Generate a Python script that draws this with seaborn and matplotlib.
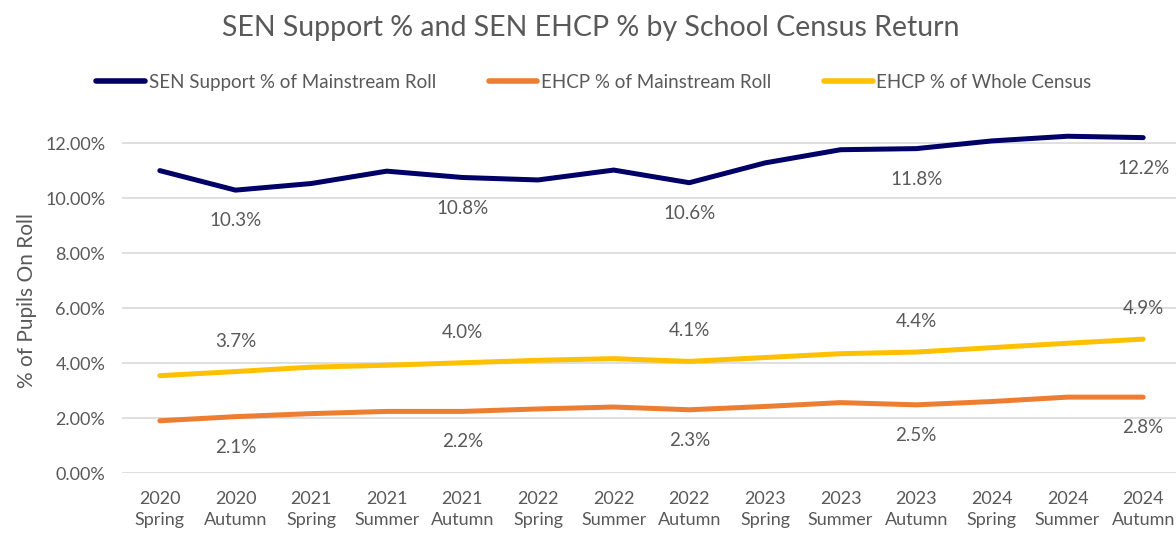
import matplotlib
matplotlib.use("Agg")
import matplotlib.pyplot as plt
import seaborn as sns
import pandas as pd
import numpy as np

# census returns (x categories)
periods = ["2020\nSpring", "2020\nAutumn", "2021\nSpring", "2021\nSummer", "2021\nAutumn",
           "2022\nSpring", "2022\nSummer", "2022\nAutumn", "2023\nSpring", "2023\nSummer",
           "2023\nAutumn", "2024\nSpring", "2024\nSummer", "2024\nAutumn"]

# values (as fractions)
sen_support = [0.1100, 0.1029, 0.1053, 0.1098, 0.1075, 0.1066, 0.1102, 0.1056, 0.1128,
               0.1176, 0.1180, 0.1208, 0.1225, 0.1220]
ehcp_mainstream = [0.0190, 0.0205, 0.0216, 0.0224, 0.0224, 0.0233, 0.0240, 0.0230, 0.0242,
                   0.0256, 0.0248, 0.0260, 0.0276, 0.0276]
ehcp_whole = [0.0354, 0.0369, 0.0385, 0.0392, 0.0401, 0.0410, 0.0416, 0.0406, 0.0420,
              0.0434, 0.0440, 0.0456, 0.0472, 0.0487]

names = ["SEN Support % of Mainstream Roll", "EHCP % of Mainstream Roll", "EHCP % of Whole Census"]
colours = ["#000066", "#ED7D31", "#FFC000"]
label_at = [1, 4, 7, 10, 13]  # autumn returns get a data label
label_side = [-1, -1, 1]      # below, below, above

df = pd.DataFrame({
    "pos": list(range(len(periods))) * 3,
    "value": sen_support + ehcp_mainstream + ehcp_whole,
    "series": sum([[n] * len(periods) for n in names], []),
})

sns.set_theme(style="white")
plt.rcParams["font.family"] = ["Lato", "DejaVu Sans"]
grey = "#595959"

fig = plt.figure(figsize=(11.76, 5.33), dpi=100)
ax = fig.add_axes([122 / 1176, 60 / 533, (1181 - 122) / 1176, (473 - 128) / 533])

sns.lineplot(data=df, x="pos", y="value", hue="series", hue_order=names,
             palette=colours, linewidth=3.6, ax=ax, legend=False, sort=False)
for ln in ax.lines:
    ln.set_solid_capstyle("round")
    ln.set_solid_joinstyle("round")
    ln.set_clip_on(False)

for vals, side in zip([sen_support, ehcp_mainstream, ehcp_whole], label_side):
    for i in label_at:
        ax.annotate(f"{vals[i] * 100:.1f}%", (i, vals[i]), xytext=(0, 22 * side),
                    textcoords="offset points", ha="center", va="center",
                    fontsize=13.5, color=grey)

ax.set_xlim(-0.5, len(periods) - 0.5)
ax.set_ylim(0, 0.1255)
ax.set_yticks(np.arange(0, 0.121, 0.02))
ax.set_yticklabels([f"{t * 100:.2f}%" for t in np.arange(0, 0.121, 0.02)])
ax.set_xticks(range(len(periods)))
ax.set_xticklabels(periods, linespacing=1.35)
ax.tick_params(axis="both", labelsize=13, colors=grey, length=0)
ax.tick_params(axis="x", pad=13)
ax.tick_params(axis="y", pad=12)
ax.grid(axis="y", color="#D9D9D9", linewidth=1.2)
for s in ax.spines.values():
    s.set_visible(False)
ax.set_xlabel("")
ax.set_ylabel("% of Pupils On Roll", fontsize=15, color=grey, labelpad=6)

fig.text(0.502, 0.947, "SEN Support % and SEN EHCP % by School Census Return",
         ha="center", va="center", fontsize=20.5, color=grey)

handles = [plt.Line2D([0], [0], color=c, linewidth=4, solid_capstyle="round") for c in colours]
fig.legend(handles, names, loc="center", bbox_to_anchor=(0.505, 0.846), ncol=3,
           frameon=False, fontsize=13.5, labelcolor=grey, handlelength=2.6,
           handletextpad=0.2, columnspacing=2.8)

fig.savefig("out.png", dpi=100)
